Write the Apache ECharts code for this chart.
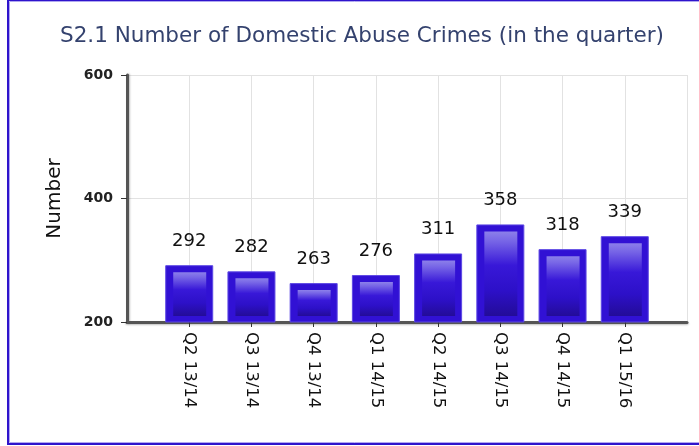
<!DOCTYPE html>
<html>
<head>
<meta charset="utf-8">
<script src="https://cdn.jsdelivr.net/npm/echarts@6/dist/echarts.min.js"></script>
<style>
  html, body { margin: 0; padding: 0; background: #fff; }
  #chart { width: 699px; height: 446px; }
</style>
</head>
<body>
<div id="chart"></div>
<script>
var myChart = echarts.init(document.getElementById('chart'))

// quarters and crime counts
var categories = ['Q2 13/14', 'Q3 13/14', 'Q4 13/14', 'Q1 14/15', 'Q2 14/15', 'Q3 14/15', 'Q4 14/15', 'Q1 15/16']
var crimes = [292, 282, 263, 276, 311, 358, 318, 339]
var yTicks = { min: 200, max: 600, step: 200 }

// pad one empty slot each side so bars sit on the gridlines
var xData = [''].concat(categories, [''])
var barData = ['-'].concat(crimes, ['-'])
var innerData = crimes.map(function(v, i) { return [i + 1, v] })

var option = {
  backgroundColor: '#fff',
  animation: false,
  title: {
    text: 'S2.1 Number of Domestic Abuse Crimes (in the quarter)',
    left: 357,
    textAlign: 'center',
    top: 20,
    textStyle: { fontFamily: 'DejaVu Sans', fontSize: 21.5, fontWeight: 'normal', color: '#34426e' }
  },
  graphic: [
    {
      // outer frame (right edge falls outside the picture)
      type: 'rect',
      shape: { x: 8, y: 0, width: 700, height: 444 },
      style: { fill: 'none', stroke: '#2f14cc', lineWidth: 2 },
      silent: true
    },
    {
      type: 'rect',
      shape: { x: 9.5, y: 1.5, width: 700, height: 441 },
      style: { fill: 'none', stroke: '#b0a8f0', lineWidth: 1 },
      silent: true
    }
  ],
  grid: { left: 127, right: 12, top: 75, bottom: 124 },
  xAxis: {
    type: 'category',
    data: xData,
    boundaryGap: false,
    axisLine: { lineStyle: { color: '#555', width: 3, shadowColor: 'rgba(0,0,0,0.25)', shadowOffsetY: 1, shadowBlur: 2 } },
    axisTick: {
      length: 5,
      interval: function(i) { return i > 0 && i < xData.length - 1 },
      lineStyle: { color: '#333', width: 1 }
    },
    axisLabel: {
      rotate: -90, interval: 0, margin: 10,
      fontFamily: 'DejaVu Sans', fontSize: 16.5, color: '#111'
    },
    splitLine: { show: true, lineStyle: { color: '#e2e2e2', width: 1 } }
  },
  yAxis: {
    type: 'value',
    min: yTicks.min, max: yTicks.max, interval: yTicks.step,
    name: 'Number',
    nameLocation: 'middle',
    nameGap: 62,
    nameRotate: 90,
    nameTextStyle: { fontFamily: 'DejaVu Sans', fontSize: 20, color: '#111' },
    axisLine: { show: true, lineStyle: { color: '#555', width: 3, shadowColor: 'rgba(0,0,0,0.25)', shadowOffsetX: 1, shadowBlur: 2 } },
    axisTick: { show: true, length: 6, lineStyle: { color: '#333' } },
    axisLabel: { fontFamily: 'DejaVu Sans', fontSize: 14, fontWeight: 'bold', color: '#222', margin: 14 },
    splitLine: { show: true, lineStyle: { color: '#e2e2e2', width: 1 } }
  },
  series: [
    {
      type: 'bar',
      data: barData,
      barWidth: 48,
      itemStyle: { color: '#3111d4', borderColor: '#5d48e4', borderWidth: 1 },
      label: {
        show: true, position: 'top', distance: 15,
        fontFamily: 'DejaVu Sans', fontSize: 18, color: '#111'
      },
      z: 2
    },
    {
      // inner glossy panel of each bar
      type: 'custom',
      data: innerData,
      silent: true,
      z: 3,
      renderItem: function(params, api) {
        var top = api.coord([api.value(0), api.value(1)])
        var bot = api.coord([api.value(0), yTicks.min])
        return {
          type: 'rect',
          shape: { x: top[0] - 16, y: top[1] + 7, width: 33, height: bot[1] - top[1] - 13 },
          style: {
            fill: new echarts.graphic.LinearGradient(0, 0, 0, 1, [
              { offset: 0, color: '#8c80ea' },
              { offset: 0.12, color: '#7664e6' },
              { offset: 0.4, color: '#3818d8' },
              { offset: 0.7, color: '#2d10c8' },
              { offset: 1, color: '#230c98' }
            ])
          }
        }
      }
    }
  ]
}

myChart.setOption(option)
</script>
</body>
</html>
